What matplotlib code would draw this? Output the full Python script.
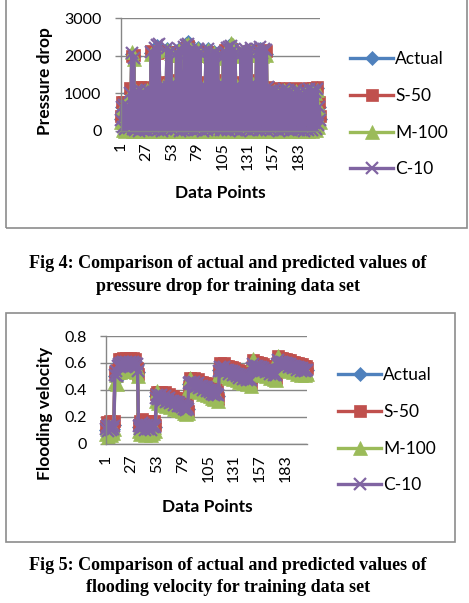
import numpy as np
import matplotlib.pyplot as plt
from matplotlib.patches import Rectangle

plt.rcParams['font.family'] = ['Lato', 'DejaVu Sans']

series_names = ['Actual', 'S-50', 'M-100', 'C-10']
xtick_pos = [1, 27, 53, 79, 105, 131, 157, 183]

# Fig 4 - pressure drop (205 data points)
pd_actual = [
    320, 650, 120, 700, 60, 560, 180, 690, 90, 1020,
    150, 2050, 80, 1980, 40, 1080, 130, 960, 20, 1100,
    210, 870, 60, 1050, 150, 990, 30, 1120, 240, 900,
    70, 2080, 110, 1060, 40, 2150, 180, 2250, 50, 2200,
    260, 1150, 20, 1250, 140, 1100, 60, 2180, 300, 1200,
    90, 2100, 30, 1300, 160, 1200, 60, 2050, 250, 2180,
    20, 2100, 180, 1150, 50, 2250, 130, 2300, 40, 2350,
    210, 2150, 80, 2080, 300, 1180, 30, 2100, 150, 2200,
    60, 2050, 240, 1100, 20, 1250, 170, 2080, 50, 2180,
    280, 2020, 90, 1150, 30, 2100, 200, 2050, 60, 2000,
    140, 1080, 40, 1300, 260, 1950, 70, 2100, 190, 2200,
    30, 2250, 120, 2300, 60, 2150, 230, 2050, 40, 1250,
    180, 1120, 20, 2080, 150, 2000, 70, 2120, 290, 1100,
    30, 2050, 160, 2150, 50, 1300, 210, 1150, 80, 2100,
    140, 2050, 30, 2180, 250, 2000, 60, 2100, 170, 2050,
    40, 1150, 120, 1080, 30, 980, 210, 1100, 60, 900,
    150, 1050, 20, 560, 180, 1080, 50, 1120, 240, 960,
    70, 1100, 130, 1050, 30, 620, 190, 1000, 60, 1100,
    220, 880, 40, 1050, 160, 540, 80, 950, 20, 1080,
    200, 1000, 50, 1120, 140, 920, 30, 1100, 230, 1050,
    70, 1130, 180, 650, 320]
pd_s50 = [
    400, 770, 200, 760, 150, 700, 260, 750, 180, 1150,
    230, 2000, 160, 2010, 120, 1170, 200, 1100, 100, 1160,
    280, 1000, 140, 1150, 220, 1100, 110, 1170, 300, 1050,
    150, 2120, 190, 1150, 120, 2100, 250, 2080, 130, 2120,
    330, 1250, 100, 1300, 210, 1200, 140, 2100, 370, 1300,
    170, 2000, 110, 1350, 240, 1280, 140, 2100, 320, 2100,
    100, 2000, 260, 1250, 130, 2150, 210, 2200, 120, 2250,
    280, 2100, 160, 2000, 370, 1280, 110, 2050, 230, 2120,
    140, 2000, 310, 1200, 100, 1300, 250, 2000, 130, 2100,
    350, 1950, 170, 1250, 110, 2050, 270, 2000, 140, 1950,
    220, 1180, 120, 1350, 330, 2000, 150, 2150, 260, 2150,
    110, 2150, 200, 2180, 140, 2100, 300, 2000, 120, 1300,
    260, 1220, 100, 2000, 230, 2050, 150, 2080, 360, 1200,
    110, 2120, 240, 2080, 130, 1350, 280, 1250, 160, 2150,
    220, 2100, 110, 2120, 320, 2100, 140, 2150, 250, 2120,
    120, 1180, 200, 1100, 110, 1000, 280, 1150, 140, 950,
    230, 1060, 100, 650, 250, 1120, 130, 1140, 310, 1000,
    150, 1120, 210, 1050, 110, 700, 260, 980, 140, 1130,
    290, 940, 120, 1080, 240, 640, 160, 1000, 100, 1120,
    270, 1030, 130, 1150, 220, 960, 110, 1140, 300, 1080,
    150, 1160, 260, 760, 400]
pd_m100 = [
    250, 600, 30, 640, 0, 520, 100, 620, 20, 980,
    80, 2100, 10, 1900, 0, 1050, 60, 920, 0, 1060,
    140, 830, 10, 1010, 80, 950, 0, 1080, 170, 860,
    10, 2050, 40, 1020, 0, 2120, 110, 2200, 0, 2170,
    190, 1100, 0, 1200, 70, 1060, 10, 2150, 230, 1150,
    30, 2080, 0, 1250, 90, 1150, 10, 2020, 180, 2150,
    0, 2080, 110, 1100, 0, 2220, 60, 2270, 0, 2300,
    140, 2120, 20, 2050, 230, 1130, 0, 2080, 80, 2170,
    10, 2030, 170, 1060, 0, 1200, 100, 2050, 0, 2150,
    210, 2000, 30, 1100, 0, 2080, 130, 2030, 10, 1980,
    70, 1040, 0, 1250, 190, 1930, 20, 2080, 120, 2180,
    0, 2230, 50, 2330, 10, 2280, 160, 2030, 0, 1200,
    110, 1080, 0, 2060, 80, 1980, 20, 2100, 220, 1060,
    0, 2030, 90, 2120, 0, 1250, 140, 1100, 30, 2080,
    70, 2030, 0, 2150, 180, 1980, 10, 2080, 100, 2030,
    0, 1100, 50, 1040, 0, 950, 140, 1060, 10, 870,
    80, 1020, 0, 530, 110, 1050, 0, 1090, 170, 930,
    20, 1070, 60, 1020, 0, 590, 120, 970, 10, 1070,
    150, 850, 0, 1020, 90, 510, 30, 920, 0, 1050,
    130, 970, 0, 1090, 70, 890, 0, 1070, 160, 1020,
    20, 1100, 110, 620, 250]
pd_c10 = [
    300, 630, 100, 680, 40, 540, 160, 670, 70, 1000,
    130, 2060, 60, 1950, 20, 1060, 110, 940, 10, 1080,
    190, 850, 40, 1030, 130, 970, 20, 1100, 220, 880,
    50, 2100, 90, 1040, 20, 2200, 160, 2280, 30, 2300,
    240, 1130, 10, 1230, 120, 1080, 40, 2200, 280, 1180,
    70, 2120, 20, 1280, 140, 1180, 40, 2060, 230, 2190,
    10, 2110, 160, 1130, 30, 2240, 110, 2280, 20, 2300,
    190, 2160, 60, 2090, 280, 1160, 20, 2110, 130, 2190,
    40, 2060, 220, 1080, 10, 1230, 150, 2090, 30, 2190,
    260, 2030, 70, 1130, 20, 2110, 180, 2060, 40, 2010,
    120, 1060, 20, 1280, 240, 1960, 50, 2110, 170, 2210,
    20, 2240, 100, 2250, 40, 2160, 210, 2060, 20, 1230,
    160, 1100, 10, 2150, 130, 2060, 50, 2180, 270, 1080,
    20, 2110, 140, 2200, 30, 1280, 190, 1130, 60, 2180,
    120, 2120, 20, 2220, 230, 2080, 40, 2190, 150, 2160,
    20, 1160, 100, 1070, 20, 970, 190, 1090, 40, 890,
    130, 1040, 10, 550, 160, 1070, 30, 1110, 220, 950,
    50, 1090, 110, 1040, 20, 610, 170, 990, 40, 1090,
    200, 870, 20, 1040, 140, 530, 60, 940, 10, 1070,
    180, 990, 30, 1110, 120, 910, 20, 1090, 210, 1040,
    50, 1120, 160, 640, 300]

# Fig 5 - flooding velocity
fv_actual = [
    0.10, 0.14, 0.08, 0.12, 0.15, 0.09, 0.13, 0.11, 0.14, 0.50,
    0.55, 0.48, 0.57, 0.60, 0.56, 0.61, 0.58, 0.62, 0.57, 0.60,
    0.62, 0.58, 0.61, 0.59, 0.62, 0.57, 0.60, 0.62, 0.58, 0.61,
    0.56, 0.59, 0.53, 0.12, 0.15, 0.10, 0.13, 0.16, 0.11, 0.14,
    0.09, 0.13, 0.15, 0.10, 0.12, 0.14, 0.09, 0.13, 0.11, 0.15,
    0.12, 0.35, 0.37, 0.33, 0.36, 0.34, 0.37, 0.32, 0.35, 0.33,
    0.36, 0.31, 0.34, 0.32, 0.35, 0.30, 0.33, 0.31, 0.33, 0.29,
    0.32, 0.30, 0.32, 0.28, 0.31, 0.28, 0.30, 0.27, 0.29, 0.26,
    0.29, 0.25, 0.28, 0.26, 0.44, 0.47, 0.43, 0.46, 0.44, 0.47,
    0.42, 0.45, 0.43, 0.46, 0.41, 0.44, 0.42, 0.44, 0.40, 0.43,
    0.41, 0.43, 0.39, 0.42, 0.40, 0.41, 0.38, 0.41, 0.37, 0.40,
    0.36, 0.39, 0.37, 0.38, 0.35, 0.55, 0.58, 0.54, 0.57, 0.55,
    0.58, 0.53, 0.56, 0.54, 0.56, 0.52, 0.55, 0.53, 0.55, 0.51,
    0.54, 0.52, 0.53, 0.50, 0.53, 0.49, 0.52, 0.50, 0.52, 0.48,
    0.51, 0.49, 0.50, 0.47, 0.50, 0.48, 0.49, 0.46, 0.57, 0.60,
    0.56, 0.59, 0.57, 0.59, 0.55, 0.58, 0.56, 0.58, 0.54, 0.57,
    0.55, 0.56, 0.53, 0.56, 0.54, 0.55, 0.52, 0.55, 0.53, 0.54,
    0.51, 0.54, 0.52, 0.50, 0.60, 0.63, 0.60, 0.62, 0.59, 0.62,
    0.60, 0.61, 0.58, 0.61, 0.59, 0.60, 0.57, 0.60, 0.58, 0.59,
    0.56, 0.59, 0.57, 0.58, 0.55, 0.58, 0.56, 0.57, 0.54, 0.57,
    0.55, 0.56, 0.54, 0.56, 0.55]
fv_s50 = [
    0.13, 0.16, 0.10, 0.15, 0.17, 0.12, 0.16, 0.13, 0.17, 0.53,
    0.52, 0.55, 0.54, 0.63, 0.59, 0.63, 0.61, 0.64, 0.60, 0.63,
    0.64, 0.61, 0.63, 0.62, 0.64, 0.60, 0.63, 0.64, 0.61, 0.63,
    0.53, 0.56, 0.52, 0.14, 0.17, 0.13, 0.16, 0.18, 0.14, 0.17,
    0.12, 0.16, 0.17, 0.13, 0.15, 0.17, 0.12, 0.16, 0.14, 0.17,
    0.14, 0.37, 0.38, 0.36, 0.38, 0.37, 0.38, 0.35, 0.37, 0.36,
    0.38, 0.34, 0.36, 0.35, 0.37, 0.33, 0.35, 0.34, 0.35, 0.32,
    0.34, 0.33, 0.34, 0.31, 0.33, 0.31, 0.32, 0.30, 0.31, 0.29,
    0.31, 0.28, 0.30, 0.24, 0.42, 0.49, 0.45, 0.48, 0.46, 0.49,
    0.44, 0.47, 0.45, 0.48, 0.43, 0.46, 0.44, 0.46, 0.42, 0.45,
    0.43, 0.45, 0.41, 0.44, 0.42, 0.43, 0.40, 0.43, 0.39, 0.42,
    0.38, 0.41, 0.39, 0.40, 0.33, 0.53, 0.60, 0.56, 0.59, 0.57,
    0.60, 0.55, 0.58, 0.56, 0.58, 0.54, 0.57, 0.55, 0.57, 0.53,
    0.56, 0.54, 0.55, 0.52, 0.55, 0.51, 0.54, 0.52, 0.54, 0.50,
    0.53, 0.51, 0.52, 0.49, 0.52, 0.50, 0.51, 0.45, 0.55, 0.62,
    0.58, 0.61, 0.59, 0.61, 0.57, 0.60, 0.58, 0.60, 0.56, 0.59,
    0.57, 0.58, 0.55, 0.58, 0.56, 0.57, 0.54, 0.57, 0.55, 0.56,
    0.53, 0.56, 0.54, 0.49, 0.58, 0.65, 0.62, 0.64, 0.61, 0.64,
    0.62, 0.63, 0.60, 0.63, 0.61, 0.62, 0.59, 0.62, 0.60, 0.61,
    0.58, 0.61, 0.59, 0.60, 0.57, 0.60, 0.58, 0.59, 0.56, 0.59,
    0.57, 0.58, 0.56, 0.58, 0.56]
fv_m100 = [
    0.07, 0.11, 0.05, 0.09, 0.12, 0.06, 0.10, 0.08, 0.11, 0.46,
    0.51, 0.44, 0.53, 0.57, 0.53, 0.58, 0.55, 0.59, 0.54, 0.57,
    0.59, 0.55, 0.58, 0.56, 0.59, 0.54, 0.57, 0.59, 0.55, 0.58,
    0.53, 0.56, 0.50, 0.09, 0.12, 0.07, 0.10, 0.13, 0.08, 0.11,
    0.06, 0.10, 0.12, 0.07, 0.09, 0.11, 0.06, 0.10, 0.08, 0.12,
    0.09, 0.32, 0.39, 0.30, 0.33, 0.31, 0.34, 0.29, 0.32, 0.30,
    0.33, 0.28, 0.31, 0.29, 0.32, 0.27, 0.30, 0.28, 0.30, 0.26,
    0.29, 0.27, 0.29, 0.25, 0.28, 0.25, 0.27, 0.24, 0.26, 0.23,
    0.26, 0.22, 0.25, 0.23, 0.41, 0.49, 0.40, 0.43, 0.41, 0.44,
    0.39, 0.42, 0.40, 0.43, 0.38, 0.41, 0.39, 0.41, 0.37, 0.40,
    0.38, 0.40, 0.36, 0.39, 0.37, 0.38, 0.35, 0.38, 0.34, 0.37,
    0.33, 0.36, 0.34, 0.35, 0.32, 0.52, 0.55, 0.51, 0.54, 0.52,
    0.55, 0.50, 0.53, 0.51, 0.53, 0.49, 0.52, 0.50, 0.52, 0.48,
    0.51, 0.49, 0.50, 0.47, 0.50, 0.46, 0.49, 0.47, 0.49, 0.45,
    0.48, 0.46, 0.47, 0.44, 0.47, 0.45, 0.46, 0.43, 0.54, 0.63,
    0.53, 0.56, 0.54, 0.56, 0.52, 0.55, 0.53, 0.55, 0.51, 0.54,
    0.52, 0.53, 0.50, 0.53, 0.51, 0.52, 0.49, 0.52, 0.50, 0.51,
    0.48, 0.51, 0.49, 0.47, 0.57, 0.65, 0.57, 0.59, 0.56, 0.59,
    0.57, 0.58, 0.55, 0.58, 0.56, 0.57, 0.54, 0.57, 0.55, 0.56,
    0.53, 0.56, 0.54, 0.55, 0.52, 0.55, 0.53, 0.54, 0.51, 0.54,
    0.52, 0.53, 0.51, 0.53, 0.52]
fv_c10 = [
    0.11, 0.13, 0.09, 0.12, 0.14, 0.10, 0.12, 0.11, 0.13, 0.51,
    0.54, 0.50, 0.58, 0.59, 0.57, 0.60, 0.58, 0.61, 0.58, 0.60,
    0.61, 0.58, 0.60, 0.59, 0.61, 0.58, 0.60, 0.61, 0.59, 0.60,
    0.57, 0.59, 0.54, 0.13, 0.14, 0.11, 0.13, 0.15, 0.12, 0.14,
    0.10, 0.13, 0.14, 0.11, 0.12, 0.14, 0.10, 0.13, 0.12, 0.14,
    0.12, 0.34, 0.36, 0.33, 0.35, 0.34, 0.36, 0.32, 0.34, 0.33,
    0.35, 0.31, 0.33, 0.32, 0.34, 0.30, 0.32, 0.31, 0.32, 0.29,
    0.31, 0.30, 0.31, 0.28, 0.30, 0.28, 0.29, 0.27, 0.28, 0.26,
    0.28, 0.25, 0.27, 0.26, 0.45, 0.46, 0.44, 0.45, 0.44, 0.46,
    0.42, 0.44, 0.43, 0.45, 0.41, 0.43, 0.42, 0.43, 0.40, 0.42,
    0.41, 0.42, 0.39, 0.41, 0.40, 0.40, 0.38, 0.40, 0.37, 0.39,
    0.36, 0.38, 0.37, 0.37, 0.36, 0.54, 0.57, 0.54, 0.56, 0.55,
    0.57, 0.53, 0.55, 0.54, 0.55, 0.52, 0.54, 0.53, 0.54, 0.51,
    0.53, 0.52, 0.52, 0.50, 0.52, 0.49, 0.51, 0.50, 0.51, 0.48,
    0.50, 0.49, 0.49, 0.47, 0.49, 0.48, 0.48, 0.47, 0.56, 0.59,
    0.56, 0.58, 0.57, 0.58, 0.55, 0.57, 0.56, 0.57, 0.54, 0.56,
    0.55, 0.55, 0.53, 0.55, 0.54, 0.54, 0.52, 0.54, 0.53, 0.53,
    0.51, 0.53, 0.52, 0.51, 0.59, 0.62, 0.60, 0.61, 0.59, 0.61,
    0.60, 0.60, 0.58, 0.60, 0.59, 0.59, 0.57, 0.59, 0.58, 0.58,
    0.56, 0.58, 0.57, 0.57, 0.55, 0.57, 0.56, 0.56, 0.54, 0.56,
    0.55, 0.55, 0.54, 0.55, 0.55]

pd_yticks = [0, 1000, 2000, 3000]
pd_ylabels = ['0', '1000', '2000', '3000']
fv_yticks = [0, 0.2, 0.4, 0.6, 0.8]
fv_ylabels = ['0', '0.2', '0.4', '0.6', '0.8']

colors = ['#4F81BD', '#C0504D', '#9BBB59', '#8064A2']
markers = ['D', 's', '^', 'x']
msizes = [7, 9, 10, 8.5]
grid_col = '#868686'
FS = 11.5

W, H = 469, 603
fig = plt.figure(figsize=(W / 100, H / 100), dpi=100)


def px_axes(left, top, right, bottom):
    return fig.add_axes([left / W, 1 - bottom / H, (right - left) / W, (bottom - top) / H])


def draw_chart(ax, series, yticks, ylabels, legend_xy):
    x = np.arange(1, len(series[0]) + 1)
    for vals, name, c, m, ms in zip(series, series_names, colors, markers, msizes):
        ax.plot(x, vals, color=c, lw=2.4, marker=m, ms=ms, mfc=c, mec=c,
                mew=1.6 if m == 'x' else 0.5, label=name, clip_on=False)
    ax.set_xlim(1, len(x))
    ax.set_ylim(yticks[0], yticks[-1])
    ax.set_yticks(yticks)
    ax.set_yticklabels(ylabels, fontsize=FS)
    ax.set_xticks(xtick_pos)
    ax.set_xticklabels([str(t) for t in xtick_pos], rotation=90, fontsize=FS)
    ax.tick_params(axis='x', length=0, pad=8)
    ax.tick_params(axis='y', length=4, width=1, color=grid_col, pad=10)
    ax.grid(axis='y', color=grid_col, lw=1)
    ax.set_axisbelow(True)
    for s in ['top', 'right']:
        ax.spines[s].set_visible(False)
    for s in ['left', 'bottom']:
        ax.spines[s].set_color(grid_col)
        ax.spines[s].set_linewidth(1)
    ax.legend(loc='upper left', bbox_to_anchor=(legend_xy[0] / W, 1 - legend_xy[1] / H),
              bbox_transform=fig.transFigure, frameon=False, borderpad=0,
              borderaxespad=0, handlelength=2.5, handletextpad=0.1,
              labelspacing=1.2, fontsize=12.5, numpoints=1)


# frames around the two chart objects
fig.add_artist(Rectangle((6 / W, 1 - 228 / H), (467 - 6) / W, 240 / H,
                         transform=fig.transFigure, fill=False, ec='#8c8c8c', lw=1.2))
fig.add_artist(Rectangle((6 / W, 1 - 542 / H), (455 - 6) / W, (542 - 313) / H,
                         transform=fig.transFigure, fill=False, ec='#8c8c8c', lw=1.2))

ax1 = px_axes(121, 18, 320, 131)
draw_chart(ax1, [pd_actual, pd_s50, pd_m100, pd_c10], pd_yticks, pd_ylabels, (350, 51))
ax2 = px_axes(106, 336, 307, 443.5)
draw_chart(ax2, [fv_actual, fv_s50, fv_m100, fv_c10], fv_yticks, fv_ylabels, (338, 367))

lab = dict(ha='center', va='center', fontsize=12.5, fontweight='bold')
fig.text(45 / W, 1 - 81 / H, 'Pressure drop', rotation=90, **lab)
fig.text(220 / W, 1 - 193 / H, 'Data Points', **lab)
fig.text(45 / W, 1 - 413 / H, 'Flooding velocity', rotation=90, **lab)
fig.text(207 / W, 1 - 507 / H, 'Data Points', **lab)

cap = dict(ha='center', va='center', fontsize=13, fontweight='bold',
           family='Liberation Serif')
fig.text(228 / W, 1 - 264 / H, 'Fig 4: Comparison of actual and predicted values of', **cap)
fig.text(228 / W, 1 - 286 / H, 'pressure drop for training data set', **cap)
fig.text(228 / W, 1 - 566 / H, 'Fig 5: Comparison of actual and predicted values of', **cap)
fig.text(228 / W, 1 - 587 / H, 'flooding velocity for training data set', **cap)

fig.savefig('out.png', dpi=100)
